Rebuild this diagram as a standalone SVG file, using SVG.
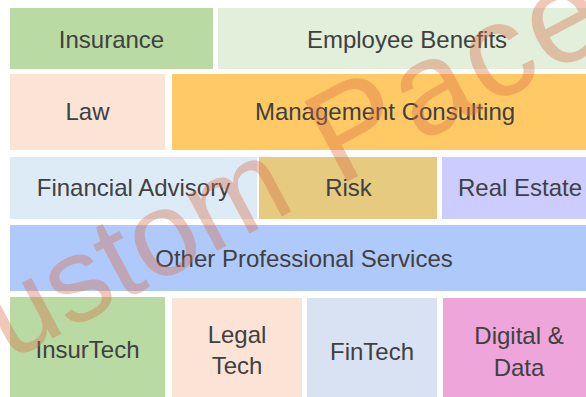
<svg xmlns="http://www.w3.org/2000/svg" width="586" height="397" viewBox="0 0 586 397">
<style>
.lbl{font-family:"Liberation Sans",Arial,sans-serif;font-size:24px;fill:#404040;text-anchor:middle}
.wm{font-family:"Liberation Sans",Arial,sans-serif;font-size:120px;fill:#D76E46;fill-opacity:0.38}
</style>
<rect width="586" height="397" fill="#ffffff"/>
<g id="insurance"><rect x="10" y="8" width="203" height="61" fill="#B9DAA3"/><text class="lbl" x="111.5" y="48">Insurance</text></g>
<g id="employee-benefits"><rect x="218" y="8" width="380" height="61" fill="#E2EFDA"/><text class="lbl" x="407" y="48">Employee Benefits</text></g>
<g id="law"><rect x="10" y="74" width="155" height="76" fill="#FBE4D6"/><text class="lbl" x="87.5" y="120">Law</text></g>
<g id="management-consulting"><rect x="172" y="74" width="426" height="76" fill="#FFCA65"/><text class="lbl" x="385" y="120">Management Consulting</text></g>
<g id="financial-advisory"><rect x="10" y="157" width="247" height="62" fill="#DDEBF7"/><text class="lbl" x="133.5" y="196">Financial Advisory</text></g>
<g id="risk"><rect x="259" y="157" width="178" height="62" fill="#E5CA80"/><text class="lbl" x="348.5" y="196">Risk</text></g>
<g id="real-estate"><rect x="442" y="157" width="156" height="62" fill="#CCCCFF"/><text class="lbl" x="520" y="196">Real Estate</text></g>
<g id="other-professional-services"><rect x="10" y="225" width="588" height="66" fill="#AFC9FB"/><text class="lbl" x="304" y="267">Other Professional Services</text></g>
<g id="insurtech"><rect x="10" y="297" width="155" height="100" fill="#B9DAA3"/><text class="lbl" x="87.5" y="358">InsurTech</text></g>
<g id="legal-tech"><rect x="172" y="298" width="130" height="99" fill="#FBE4D6"/><text class="lbl" x="237" y="343">Legal</text><text class="lbl" x="237" y="374">Tech</text></g>
<g id="fintech"><rect x="307" y="298" width="130" height="99" fill="#D9E2F3"/><text class="lbl" x="372" y="360">FinTech</text></g>
<g id="digital-data"><rect x="443" y="298" width="155" height="99" fill="#EEA5DA"/><text class="lbl" x="519" y="344">Digital &amp;</text><text class="lbl" x="519" y="376">Data</text></g>
<g id="connectors"></g>
<text class="wm" transform="translate(-67,402) rotate(-28)">Custom<tspan dx="45" font-size="132" letter-spacing="4">Pace</tspan></text>
</svg>
